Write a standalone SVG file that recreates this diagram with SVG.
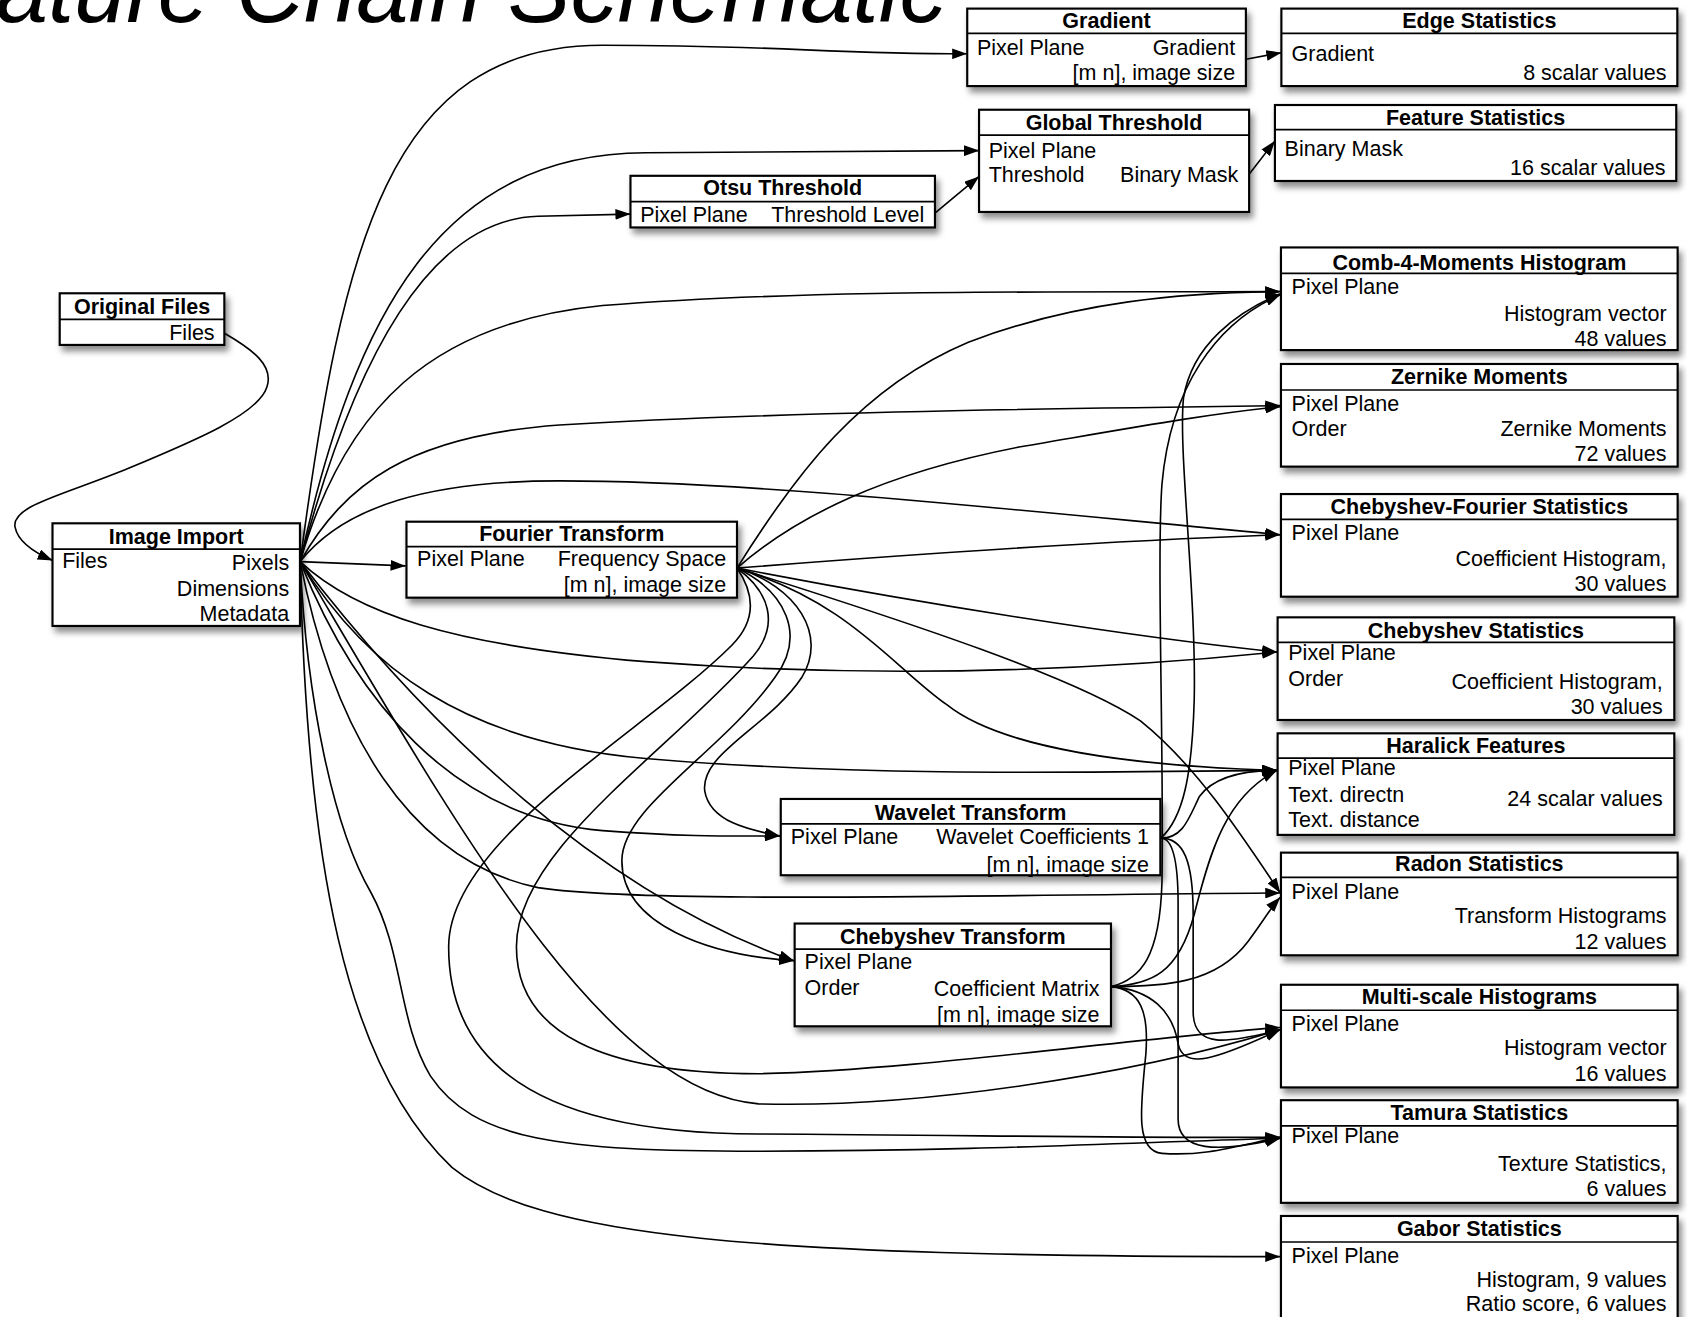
<svg xmlns="http://www.w3.org/2000/svg" width="1687" height="1317" viewBox="0 0 1687 1317">
<defs>
<style>
.box{fill:#fff;stroke:#000;stroke-width:2}
.sep{stroke:#000;stroke-width:1.6}
.t{font-family:"Liberation Sans",Arial,Helvetica,sans-serif;font-size:20px;fill:#000}
.h{font-weight:bold;text-anchor:middle}
.r{text-anchor:end}
.e{fill:none;stroke:#000;stroke-width:1.5;marker-end:url(#arr)}
.title{font-family:"Liberation Sans",Arial,Helvetica,sans-serif;font-style:italic;font-size:94px;fill:#000}
</style>
<marker id="arr" viewBox="0 0 14 10" refX="14" refY="5" markerWidth="14" markerHeight="10" orient="auto" markerUnits="userSpaceOnUse"><path d="M0,0 L14,5 L0,10 z" fill="#000"/></marker>
<filter id="sh" x="-10%" y="-20%" width="130%" height="160%"><feDropShadow dx="3" dy="5" stdDeviation="3" flood-color="#000" flood-opacity="0.45"/></filter>
</defs>
<rect width="1687" height="1317" fill="#fff"/>
<text class="title" x="-114" y="22">Feature Chain Schematic</text>
<g transform="scale(1.07589)">
<g id="connectors">
<path class="e" d="M279,522 C318,230 360,42 560,42 C720,42 770,50 899,50"/>
<path class="e" d="M279,522 C330,290 410,143 600,142 L910,140"/>
<path class="e" d="M279,522 C330,330 400,204 500,201 L586,199"/>
<path class="e" d="M279,522 C320,380 400,300 560,284 C760,268 1000,272 1190,271"/>
<path class="e" d="M279,522 C320,450 380,405 520,395 C700,384 950,380 1190,377"/>
<path class="e" d="M279,522 C320,470 400,447 520,447 C700,447 950,475 1190,497"/>
<path class="e" d="M279,522 L377,526"/>
<path class="e" d="M279,522 C330,570 420,600 600,615 C800,630 1000,625 1187,606"/>
<path class="e" d="M279,522 C340,620 430,690 600,705 C800,722 1000,718 1187,716"/>
<path class="e" d="M279,522 C330,650 420,760 560,772 C640,778 680,777 725,777"/>
<path class="e" d="M279,522 C310,680 380,800 500,825 C600,840 900,832 1190,830"/>
<path class="e" d="M279,522 C400,680 560,830 738,893"/>
<path class="e" d="M279,522 C420,760 560,1015 705,1026 C850,1030 1050,1000 1190,957"/>
<path class="e" d="M279,522 C285,650 310,770 345,830 C375,885 370,950 400,1000 C440,1060 520,1070 705,1070 C900,1070 1050,1062 1190,1058"/>
<path class="e" d="M279,522 C285,800 320,990 420,1085 C500,1150 700,1168 1190,1168"/>
<path class="e" d="M685,528 C740,440 800,360 900,318 C1000,280 1100,272 1190,271"/>
<path class="e" d="M685,528 C740,480 820,440 950,415 C1050,398 1120,385 1190,378"/>
<path class="e" d="M685,528 C850,515 1050,502 1190,497"/>
<path class="e" d="M685,528 C850,560 1050,592 1187,606"/>
<path class="e" d="M685,528 C790,560 830,620 880,655 C930,695 1050,712 1187,716"/>
<path class="e" d="M685,528 C850,580 1000,630 1060,670 C1110,710 1150,770 1190,830"/>
<path class="e" d="M685,528 C740,545 770,590 745,630 C715,675 651,700 655,735 C660,765 700,772 725,777"/>
<path class="e" d="M685,528 C730,550 750,590 720,630 C670,700 578,750 578,800 C578,860 660,888 738,893"/>
<path class="e" d="M685,528 C715,550 725,580 700,610 C620,700 480,790 480,880 C480,960 560,998 705,998 C850,995 1050,965 1190,955"/>
<path class="e" d="M685,528 C700,550 705,575 680,600 C600,680 417,780 417,880 C417,1000 520,1054 705,1054 C900,1055 1050,1058 1190,1057"/>
<path class="e" d="M1079,779 C1100,760 1108,720 1110,650 C1112,550 1095,420 1100,370 C1108,320 1150,290 1190,273"/>
<path class="e" d="M1079,779 C1100,779 1105,760 1115,740 C1130,720 1160,716 1187,716"/>
<path class="e" d="M1079,779 C1100,779 1109,800 1109,850 L1109,940 C1109,975 1140,970 1190,957"/>
<path class="e" d="M1079,779 C1090,779 1095,800 1095,840 L1095,1040 C1095,1070 1130,1072 1190,1058"/>
<path class="e" d="M1033,917 C1060,910 1078,890 1080,820 C1082,700 1075,520 1080,450 C1088,360 1130,300 1190,274"/>
<path class="e" d="M1033,917 C1070,915 1095,905 1110,850 C1125,790 1140,740 1187,716"/>
<path class="e" d="M1033,917 C1080,917 1130,915 1160,875 C1175,855 1180,845 1190,834"/>
<path class="e" d="M1033,917 C1070,920 1090,940 1095,970 C1100,995 1130,985 1190,957"/>
<path class="e" d="M1033,917 C1060,920 1068,940 1065,980 C1060,1030 1055,1070 1080,1072 C1120,1075 1150,1065 1190,1057"/>
<path class="e" d="M209,310 C235,325 255,340 248,360 C240,385 180,410 120,435 C60,460 10,470 14,490 C17,505 35,515 49,521"/>
<path class="e" d="M1158,55 L1191,49"/>
<path class="e" d="M869,198 L910,164"/>
<path class="e" d="M1161,162 L1185,131"/>
</g>

<g id="gradient">
<rect class="box" filter="url(#sh)" x="899" y="8" width="259" height="72"/>
<line class="sep" x1="899" y1="31" x2="1158" y2="31"/>
<text class="t h" x="1028.5" y="26.4">Gradient</text>
<text class="t" x="908" y="51.5">Pixel Plane</text>
<text class="t r" x="1148" y="51.5">Gradient</text>
<text class="t r" x="1148" y="74">[m n], image size</text>
</g>
<g id="edge-statistics">
<rect class="box" filter="url(#sh)" x="1191" y="8" width="368" height="72"/>
<line class="sep" x1="1191" y1="31" x2="1559" y2="31"/>
<text class="t h" x="1375" y="26.4">Edge Statistics</text>
<text class="t" x="1200.5" y="56.5">Gradient</text>
<text class="t r" x="1549" y="74">8 scalar values</text>
</g>
<g id="global-threshold">
<rect class="box" filter="url(#sh)" x="910" y="102" width="251" height="95"/>
<line class="sep" x1="910" y1="125.5" x2="1161" y2="125.5"/>
<text class="t h" x="1035.5" y="121">Global Threshold</text>
<text class="t" x="919" y="146.5">Pixel Plane</text>
<text class="t" x="919" y="169">Threshold</text>
<text class="t r" x="1151" y="169">Binary Mask</text>
</g>
<g id="feature-statistics">
<rect class="box" filter="url(#sh)" x="1185" y="97.6" width="373" height="70.6"/>
<line class="sep" x1="1185" y1="120.5" x2="1558" y2="120.5"/>
<text class="t h" x="1371.5" y="116">Feature Statistics</text>
<text class="t" x="1194" y="145">Binary Mask</text>
<text class="t r" x="1548" y="163">16 scalar values</text>
</g>
<g id="otsu-threshold">
<rect class="box" filter="url(#sh)" x="586" y="163.4" width="283" height="48"/>
<line class="sep" x1="586" y1="187.4" x2="869" y2="187.4"/>
<text class="t h" x="727.5" y="181">Otsu Threshold</text>
<text class="t" x="595" y="206">Pixel Plane</text>
<text class="t r" x="859" y="206">Threshold Level</text>
</g>
<g id="original-files">
<rect class="box" filter="url(#sh)" x="55.5" y="272.6" width="153" height="48"/>
<line class="sep" x1="55.5" y1="296.8" x2="208.5" y2="296.8"/>
<text class="t h" x="132" y="292">Original Files</text>
<text class="t r" x="199.5" y="316">Files</text>
</g>
<g id="image-import">
<rect class="box" filter="url(#sh)" x="48.8" y="486.4" width="230" height="95.4"/>
<line class="sep" x1="48.8" y1="510.3" x2="278.8" y2="510.3"/>
<text class="t h" x="163.8" y="505.5">Image Import</text>
<text class="t" x="57.8" y="527.7">Files</text>
<text class="t r" x="268.8" y="530">Pixels</text>
<text class="t r" x="268.8" y="554">Dimensions</text>
<text class="t r" x="268.8" y="577.3">Metadata</text>
</g>
<g id="fourier-transform">
<rect class="box" filter="url(#sh)" x="377.8" y="484.9" width="307.2" height="70.6"/>
<line class="sep" x1="377.8" y1="508.1" x2="685" y2="508.1"/>
<text class="t h" x="531.4" y="503">Fourier Transform</text>
<text class="t" x="387.7" y="526.3">Pixel Plane</text>
<text class="t r" x="675" y="526.3">Frequency Space</text>
<text class="t r" x="675" y="550.3">[m n], image size</text>
</g>
<g id="wavelet-transform">
<rect class="box" filter="url(#sh)" x="725.7" y="742.6" width="352.8" height="70.9"/>
<line class="sep" x1="725.7" y1="765.8" x2="1078.5" y2="765.8"/>
<text class="t h" x="902.1" y="762">Wavelet Transform</text>
<text class="t" x="735" y="784.7">Pixel Plane</text>
<text class="t r" x="1068" y="784.7">Wavelet Coefficients 1</text>
<text class="t r" x="1068" y="810.5">[m n], image size</text>
</g>
<g id="chebyshev-transform">
<rect class="box" filter="url(#sh)" x="738.6" y="858.4" width="294" height="95.5"/>
<line class="sep" x1="738.6" y1="882.2" x2="1032.6" y2="882.2"/>
<text class="t h" x="885.6" y="877.7">Chebyshev Transform</text>
<text class="t" x="747.8" y="900.4">Pixel Plane</text>
<text class="t" x="747.8" y="924.4">Order</text>
<text class="t r" x="1022" y="926.2">Coefficient Matrix</text>
<text class="t r" x="1022" y="950.2">[m n], image size</text>
</g>
<g id="comb-4-moments">
<rect class="box" filter="url(#sh)" x="1190.6" y="230" width="368.7" height="95.4"/>
<line class="sep" x1="1190.6" y1="254" x2="1559.3" y2="254"/>
<text class="t h" x="1375" y="250.5">Comb-4-Moments Histogram</text>
<text class="t" x="1200.5" y="273.7">Pixel Plane</text>
<text class="t r" x="1549" y="298">Histogram vector</text>
<text class="t r" x="1549" y="321.7">48 values</text>
</g>
<g id="zernike-moments">
<rect class="box" filter="url(#sh)" x="1190.6" y="338.3" width="368.7" height="95.4"/>
<line class="sep" x1="1190.6" y1="362.5" x2="1559.3" y2="362.5"/>
<text class="t h" x="1375" y="357">Zernike Moments</text>
<text class="t" x="1200.5" y="382">Pixel Plane</text>
<text class="t" x="1200.5" y="405.4">Order</text>
<text class="t r" x="1549" y="405.4">Zernike Moments</text>
<text class="t r" x="1549" y="428.6">72 values</text>
</g>
<g id="chebyshev-fourier-statistics">
<rect class="box" filter="url(#sh)" x="1190.6" y="459.2" width="368.7" height="95.4"/>
<line class="sep" x1="1190.6" y1="482.7" x2="1559.3" y2="482.7"/>
<text class="t h" x="1375" y="478">Chebyshev-Fourier Statistics</text>
<text class="t" x="1200.5" y="502.3">Pixel Plane</text>
<text class="t r" x="1549" y="526.3">Coefficient Histogram,</text>
<text class="t r" x="1549" y="549.4">30 values</text>
</g>
<g id="chebyshev-statistics">
<rect class="box" filter="url(#sh)" x="1187.5" y="573.8" width="368.7" height="95.4"/>
<line class="sep" x1="1187.5" y1="597" x2="1556.2" y2="597"/>
<text class="t h" x="1371.8" y="592.8">Chebyshev Statistics</text>
<text class="t" x="1197.4" y="613.5">Pixel Plane</text>
<text class="t" x="1197.4" y="637.7">Order</text>
<text class="t r" x="1545.4" y="640.8">Coefficient Histogram,</text>
<text class="t r" x="1545.4" y="664">30 values</text>
</g>
<g id="haralick-features">
<rect class="box" filter="url(#sh)" x="1187.5" y="681.6" width="368.7" height="94.4"/>
<line class="sep" x1="1187.5" y1="704.6" x2="1556.2" y2="704.6"/>
<text class="t h" x="1371.8" y="700">Haralick Features</text>
<text class="t" x="1197.4" y="720.5">Pixel Plane</text>
<text class="t" x="1197.4" y="745">Text. directn</text>
<text class="t" x="1197.4" y="769">Text. distance</text>
<text class="t r" x="1545.4" y="749">24 scalar values</text>
</g>
<g id="radon-statistics">
<rect class="box" filter="url(#sh)" x="1190.6" y="792.5" width="368.7" height="95.4"/>
<line class="sep" x1="1190.6" y1="815.5" x2="1559.3" y2="815.5"/>
<text class="t h" x="1375" y="810">Radon Statistics</text>
<text class="t" x="1200.5" y="835.6">Pixel Plane</text>
<text class="t r" x="1549" y="857.5">Transform Histograms</text>
<text class="t r" x="1549" y="881.6">12 values</text>
</g>
<g id="multi-scale-histograms">
<rect class="box" filter="url(#sh)" x="1190.6" y="915.3" width="368.7" height="95.4"/>
<line class="sep" x1="1190.6" y1="939" x2="1559.3" y2="939"/>
<text class="t h" x="1375" y="933">Multi-scale Histograms</text>
<text class="t" x="1200.5" y="958.5">Pixel Plane</text>
<text class="t r" x="1549" y="980.8">Histogram vector</text>
<text class="t r" x="1549" y="1004.8">16 values</text>
</g>
<g id="tamura-statistics">
<rect class="box" filter="url(#sh)" x="1190.6" y="1022.6" width="368.7" height="95.4"/>
<line class="sep" x1="1190.6" y1="1046.4" x2="1559.3" y2="1046.4"/>
<text class="t h" x="1375" y="1041">Tamura Statistics</text>
<text class="t" x="1200.5" y="1062.2">Pixel Plane</text>
<text class="t r" x="1549" y="1088.8">Texture Statistics,</text>
<text class="t r" x="1549" y="1111.8">6 values</text>
</g>
<g id="gabor-statistics">
<rect class="box" filter="url(#sh)" x="1190.6" y="1130.2" width="368.7" height="95.4"/>
<line class="sep" x1="1190.6" y1="1154.4" x2="1559.3" y2="1154.4"/>
<text class="t h" x="1375" y="1149">Gabor Statistics</text>
<text class="t" x="1200.5" y="1173.8">Pixel Plane</text>
<text class="t r" x="1549" y="1196">Histogram, 9 values</text>
<text class="t r" x="1549" y="1218.7">Ratio score, 6 values</text>
</g>
</g>
</svg>
